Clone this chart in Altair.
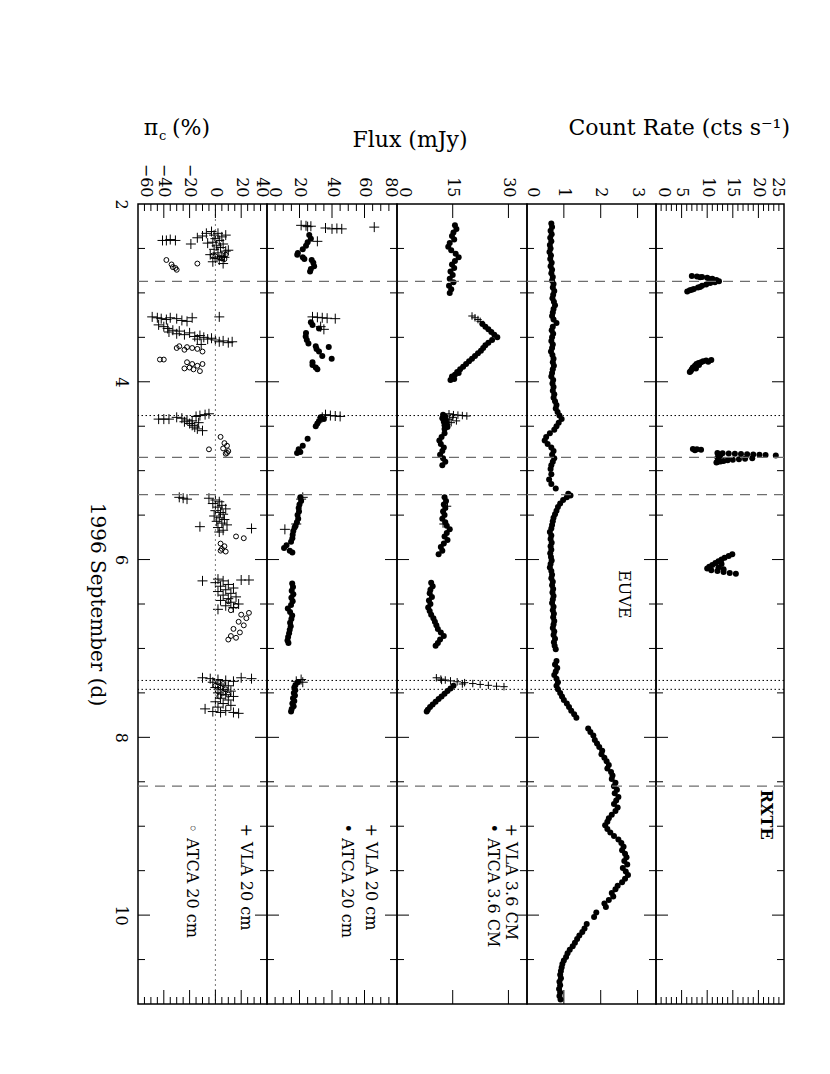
import altair as alt
import pandas as pd

FONT = "DejaVu Serif"
H = 800
CROSS = "M -1 0 L 1 0 M 0 -1 L 0 1"

# ---------------- time axis ----------------
TIME_DOMAIN = [2, 11]
TIME_LABELS = [2, 4, 6, 8, 10]
TIME_MAJOR = [4, 6, 8, 10]
TIME_MINOR = [2.5, 3, 3.5, 4.5, 5, 5.5, 6.5, 7, 7.5, 8.5, 9, 9.5, 10.5]
DASHED_DAYS = [2.87, 4.85, 5.27, 8.55]
DOTTED_DAYS = [4.38, 7.36, 7.46]

# ---------------- RXTE count rate (day, cts/s) ----------------
RXTE = [
    (2.81, 7.0), (2.815, 8.0), (2.82, 9.0), (2.825, 8.6), (2.83, 10.0), (2.84, 11.0), (2.845, 10.4),
    (2.855, 11.8), (2.87, 12.3), (2.88, 11.5), (2.89, 10.6), (2.905, 9.8), (2.92, 9.0), (2.935, 8.6),
    (2.94, 8.2), (2.955, 7.4), (2.965, 7.0), (2.97, 6.6), (2.985, 6.1),
    (3.755, 10.8), (3.76, 9.8), (3.77, 9.2), (3.775, 10.2), (3.78, 8.8), (3.79, 8.3), (3.80, 7.9),
    (3.81, 8.4), (3.82, 7.6), (3.84, 7.2), (3.85, 7.8), (3.86, 7.0), (3.88, 6.8), (3.89, 6.6),
    (4.755, 7.2), (4.76, 8.0), (4.765, 8.8), (4.77, 7.6),
    (4.800, 12.0), (4.803, 13.0), (4.806, 14.2), (4.809, 15.4), (4.812, 16.6), (4.815, 17.8),
    (4.818, 19.0), (4.821, 20.2), (4.824, 21.4), (4.828, 23.4), (4.835, 12.5), (4.845, 12.2),
    (4.855, 12.0), (4.860, 18.8), (4.866, 17.4), (4.872, 16.2), (4.878, 15.0), (4.884, 14.0),
    (4.890, 13.2), (4.896, 12.6), (4.902, 12.0), (4.908, 11.8),
    (5.94, 14.9), (5.96, 14.2), (5.98, 13.4), (6.00, 12.8), (6.02, 12.2), (6.04, 11.6), (6.05, 12.8),
    (6.06, 11.0), (6.08, 10.4), (6.09, 12.2), (6.10, 10.0), (6.11, 13.2), (6.12, 10.8), (6.13, 12.0),
    (6.14, 13.2), (6.15, 14.4), (6.16, 15.6),
]

# ---------------- EUVE count rate (day, cts/s) ----------------
EUVE = [
    (2.22, 0.66), (2.26, 0.68), (2.30, 0.64), (2.34, 0.67), (2.38, 0.63), (2.42, 0.66), (2.46, 0.62),
    (2.50, 0.64), (2.54, 0.61), (2.58, 0.65), (2.62, 0.63), (2.66, 0.67), (2.70, 0.64), (2.74, 0.68),
    (2.78, 0.66), (2.82, 0.70), (2.86, 0.68), (2.90, 0.72), (2.94, 0.70), (2.98, 0.74), (3.02, 0.71),
    (3.06, 0.69), (3.10, 0.73), (3.14, 0.76), (3.18, 0.72), (3.22, 0.70), (3.26, 0.68), (3.30, 0.72),
    (3.34, 0.80), (3.38, 0.70), (3.42, 0.67), (3.46, 0.71), (3.50, 0.68), (3.54, 0.66), (3.58, 0.70),
    (3.62, 0.68), (3.66, 0.65), (3.70, 0.69), (3.74, 0.72), (3.78, 0.70), (3.82, 0.73), (3.86, 0.70),
    (3.90, 0.68), (3.94, 0.66), (3.98, 0.71), (4.02, 0.69), (4.06, 0.72), (4.10, 0.70), (4.14, 0.74),
    (4.18, 0.72), (4.22, 0.76), (4.26, 0.80), (4.30, 0.78), (4.34, 0.83), (4.38, 0.88), (4.42, 0.94),
    (4.46, 0.86), (4.50, 0.80), (4.54, 0.74), (4.58, 0.62), (4.62, 0.52), (4.66, 0.48), (4.70, 0.56),
    (4.74, 0.66), (4.78, 0.72), (4.82, 0.68), (4.86, 0.74), (4.90, 0.70), (4.94, 0.66), (4.98, 0.64),
    (5.04, 0.66), (5.10, 0.60), (5.15, 0.66), (5.20, 0.78), (5.26, 1.12), (5.28, 1.18), (5.30, 1.08),
    (5.33, 0.98), (5.37, 0.90), (5.41, 0.84), (5.45, 0.80), (5.49, 0.76), (5.53, 0.72), (5.57, 0.70),
    (5.61, 0.68), (5.65, 0.66), (5.69, 0.62), (5.73, 0.66), (5.77, 0.64), (5.81, 0.67), (5.85, 0.64),
    (5.89, 0.66), (5.93, 0.63), (5.97, 0.65), (6.01, 0.67), (6.05, 0.64), (6.09, 0.62), (6.13, 0.66),
    (6.17, 0.68), (6.21, 0.66), (6.25, 0.70), (6.29, 0.68), (6.33, 0.71), (6.37, 0.69), (6.41, 0.72),
    (6.45, 0.70), (6.49, 0.68), (6.53, 0.72), (6.57, 0.70), (6.61, 0.73), (6.65, 0.71), (6.69, 0.74),
    (6.73, 0.72), (6.77, 0.70), (6.81, 0.74), (6.85, 0.72), (6.89, 0.76), (6.93, 0.73), (6.97, 0.75),
    (7.01, 0.78), (7.14, 0.80), (7.18, 0.76), (7.22, 0.82), (7.26, 0.78), (7.30, 0.74), (7.34, 0.80),
    (7.38, 0.84), (7.42, 0.80), (7.46, 0.84), (7.50, 0.90), (7.54, 0.95), (7.58, 1.00), (7.62, 1.08),
    (7.66, 1.14), (7.70, 1.20), (7.74, 1.28), (7.78, 1.34), (7.90, 1.66), (7.94, 1.72), (7.98, 1.80),
    (8.03, 1.84), (8.07, 1.90), (8.11, 1.96), (8.15, 2.04), (8.19, 2.02), (8.23, 2.10), (8.27, 2.16),
    (8.31, 2.22), (8.35, 2.18), (8.39, 2.28), (8.43, 2.32), (8.47, 2.30), (8.51, 2.40), (8.55, 2.36),
    (8.59, 2.44), (8.63, 2.38), (8.67, 2.48), (8.71, 2.42), (8.75, 2.36), (8.79, 2.46), (8.83, 2.40),
    (8.87, 2.30), (8.91, 2.22), (8.95, 2.18), (8.99, 2.12), (9.03, 2.18), (9.07, 2.26), (9.11, 2.36),
    (9.15, 2.48), (9.19, 2.56), (9.23, 2.62), (9.27, 2.58), (9.31, 2.66), (9.35, 2.70), (9.39, 2.64),
    (9.43, 2.72), (9.47, 2.60), (9.51, 2.68), (9.55, 2.74), (9.59, 2.66), (9.63, 2.58), (9.67, 2.46),
    (9.71, 2.40), (9.75, 2.30), (9.79, 2.34), (9.83, 2.22), (9.87, 2.10), (9.91, 2.14), (9.97, 1.88),
    (10.02, 1.82), (10.10, 1.62), (10.15, 1.56), (10.19, 1.50), (10.23, 1.42), (10.27, 1.36),
    (10.31, 1.30), (10.35, 1.24), (10.39, 1.16), (10.43, 1.10), (10.47, 1.06), (10.51, 1.00),
    (10.55, 0.96), (10.59, 0.94), (10.63, 0.92), (10.67, 0.90), (10.71, 0.92), (10.75, 0.88),
    (10.79, 0.90), (10.83, 0.87), (10.87, 0.90), (10.91, 0.88), (10.95, 0.91),
]

# ---------------- 3.6 cm flux (day, mJy) ----------------
VLA_36 = [
    (3.26, 20.2), (3.28, 21.0), (3.30, 21.8), (3.32, 22.4),
    (4.36, 14.0), (4.37, 15.2), (4.375, 16.4), (4.38, 17.6), (4.385, 18.8), (4.40, 15.0), (4.42, 14.2),
    (4.44, 16.0), (4.46, 14.6), (4.48, 13.4),
    (5.40, 13.6), (5.60, 12.4),
    (7.33, 10.6), (7.345, 11.8), (7.355, 13.0), (7.36, 12.0), (7.365, 14.4), (7.375, 16.2), (7.385, 18.2),
    (7.395, 20.4), (7.40, 17.6), (7.405, 22.4), (7.415, 24.6), (7.425, 26.8), (7.43, 28.8),
]
ATCA_36 = [
    (2.24, 15.6), (2.28, 16.0), (2.32, 15.2), (2.36, 14.8), (2.40, 15.4), (2.44, 14.2), (2.48, 13.8),
    (2.52, 14.6), (2.56, 15.8), (2.60, 16.6), (2.64, 15.6), (2.68, 14.8), (2.72, 15.4), (2.76, 14.4),
    (2.80, 15.0), (2.84, 14.2), (2.88, 15.2), (2.92, 14.0), (2.96, 14.6), (3.00, 14.2),
    (3.35, 23.0), (3.38, 23.8), (3.41, 24.6), (3.44, 25.4), (3.47, 26.2), (3.50, 27.0), (3.53, 25.6),
    (3.56, 24.6), (3.59, 23.8), (3.62, 23.2), (3.65, 22.6), (3.68, 21.8), (3.71, 21.0), (3.74, 20.2),
    (3.77, 19.4), (3.80, 18.6), (3.83, 17.8), (3.86, 17.0), (3.89, 16.2), (3.90, 16.6), (3.92, 15.6),
    (3.94, 14.8), (3.95, 15.0), (3.97, 15.4), (3.98, 14.4),
    (4.37, 12.4), (4.39, 13.0), (4.41, 12.2), (4.43, 13.2), (4.45, 12.6), (4.47, 13.4), (4.49, 12.8),
    (4.51, 13.6), (4.53, 12.8),
    (4.58, 12.8), (4.62, 12.0), (4.66, 11.4), (4.70, 11.8), (4.74, 12.6), (4.78, 12.2), (4.82, 11.6),
    (4.86, 12.4), (4.90, 13.0), (4.94, 12.2),
    (5.30, 12.8), (5.34, 13.2), (5.38, 12.6), (5.42, 13.0), (5.46, 12.4), (5.50, 12.8), (5.54, 12.2),
    (5.58, 13.0), (5.62, 13.4), (5.66, 14.2), (5.70, 13.4), (5.74, 12.8), (5.78, 13.6), (5.82, 12.6),
    (5.86, 11.8), (5.90, 12.2), (5.94, 11.2),
    (6.26, 9.2), (6.30, 9.6), (6.34, 9.0), (6.38, 8.8), (6.42, 9.4), (6.46, 8.6), (6.50, 9.0),
    (6.54, 8.4), (6.58, 8.8), (6.62, 9.2), (6.66, 9.8), (6.70, 10.2), (6.74, 10.6), (6.78, 11.0),
    (6.82, 11.8), (6.86, 12.6), (6.90, 11.6), (6.94, 11.0), (6.97, 10.4),
    (7.42, 15.2), (7.45, 14.4), (7.48, 13.6), (7.51, 12.8), (7.54, 12.0), (7.57, 11.2), (7.60, 10.4),
    (7.63, 9.6), (7.66, 8.9), (7.69, 8.3), (7.71, 8.0),
]

# ---------------- 20 cm flux (day, mJy) ----------------
VLA_20 = [
    (2.24, 21), (2.245, 24), (2.25, 27), (2.255, 25), (2.27, 36), (2.28, 40), (2.275, 43), (2.28, 46),
    (2.26, 66), (2.42, 31),
    (3.27, 28), (3.275, 31), (3.28, 34), (3.285, 37), (3.29, 42), (3.38, 33), (3.41, 35),
    (4.37, 36), (4.38, 39), (4.385, 42), (4.39, 45), (4.40, 34),
    (5.30, 22), (5.32, 21), (5.66, 11), (5.60, 18),
    (7.35, 21), (7.37, 18), (7.38, 22),
]
ATCA_20 = [
    (2.35, 26), (2.39, 27), (2.43, 25), (2.47, 24), (2.51, 22), (2.55, 19), (2.57, 18.6), (2.60, 22),
    (2.62, 23), (2.63, 27.5), (2.66, 28.5), (2.70, 29), (2.73, 27), (2.76, 26.5),
    (3.33, 27), (3.36, 28), (3.40, 32), (3.45, 24), (3.49, 23.8), (3.53, 24.5), (3.57, 25.5),
    (3.60, 30), (3.63, 30.5), (3.61, 38), (3.66, 32), (3.71, 34), (3.74, 39.8), (3.78, 28),
    (3.81, 28), (3.84, 30), (3.86, 31),
    (4.40, 33), (4.42, 35), (4.44, 32), (4.47, 31), (4.50, 30),
    (4.64, 25), (4.72, 22), (4.76, 19.5), (4.79, 20.5), (4.80, 18.5),
    (5.30, 20.5), (5.34, 21), (5.38, 20), (5.42, 19.5), (5.46, 19.7), (5.50, 18.8), (5.54, 19.2),
    (5.58, 18.4), (5.62, 17.6), (5.64, 17.0), (5.68, 16.2), (5.72, 15.8), (5.76, 15.6), (5.80, 14.8),
    (5.84, 12.0), (5.87, 10.5), (5.90, 14.0), (5.92, 15.6),
    (6.27, 15.5), (6.31, 16.0), (6.35, 15.2), (6.39, 16.2), (6.43, 15.0), (6.47, 15.8), (6.51, 14.8),
    (6.55, 12.8), (6.59, 14.2), (6.63, 15.5), (6.67, 15.0), (6.71, 14.2), (6.75, 14.6), (6.79, 14.0),
    (6.83, 13.6), (6.87, 13.0), (6.91, 12.6), (6.94, 13.2),
    (7.38, 19), (7.41, 17.5), (7.44, 16.8), (7.47, 17.4), (7.50, 16.5), (7.53, 17.2), (7.56, 16.0),
    (7.59, 16.8), (7.62, 15.6), (7.65, 16.4), (7.68, 15.2), (7.71, 14.8),
]

# ---------------- circular polarisation 20 cm (day, %) ----------------
VLA_PC = [
    (2.41, -41), (2.41, -38), (2.40, -35), (2.41, -31), (2.45, -19), (2.38, -14), (2.36, -10),
    (2.33, -7), (2.31, -3), (2.33, 2), (2.35, -1), (2.37, 5), (2.39, 0), (2.41, 3), (2.43, -2),
    (2.45, 6), (2.47, 1), (2.49, 4), (2.51, -1), (2.53, 8), (2.55, 2), (2.57, -4), (2.59, 5),
    (2.61, 0), (2.63, 3), (2.65, -2), (2.67, 6), (2.35, 8), (2.44, -6), (2.52, 10), (2.60, 7),
    (3.27, -49), (3.28, -45), (3.29, -42), (3.30, -38), (3.28, -35), (3.29, -30), (3.31, -26),
    (3.32, -22), (3.28, -18), (3.27, 3), (3.36, -44), (3.38, -40), (3.40, -37), (3.42, -33),
    (3.44, -36), (3.46, -30), (3.43, -28), (3.47, -24), (3.45, -20), (3.49, -16), (3.48, -12),
    (3.50, -9), (3.52, -6), (3.51, -3), (3.53, 0), (3.55, 3), (3.54, 6), (3.56, 10), (3.55, 13),
    (3.52, -14), (3.58, -11),
    (4.42, -44), (4.42, -40), (4.42, -36), (4.40, -30), (4.41, -26), (4.43, -22), (4.45, -24),
    (4.47, -20), (4.49, -18), (4.51, -16), (4.53, -14), (4.44, -18), (4.46, -13), (4.38, -12),
    (4.37, -8), (4.36, -5), (4.39, -15), (4.55, -10),
    (5.30, -28), (5.31, -25), (5.32, -22), (5.31, -5), (5.33, 0), (5.35, 3), (5.37, -2), (5.39, 5),
    (5.41, 2), (5.43, 8), (5.45, 0), (5.47, 4), (5.49, 6), (5.51, -1), (5.53, 3), (5.55, 7),
    (5.57, 1), (5.59, 5), (5.61, 9), (5.63, -12), (5.65, 28), (5.64, 2), (5.67, 6), (5.69, 3),
    (6.24, -10), (6.22, 2), (6.24, 6), (6.26, 0), (6.28, 10), (6.30, 4), (6.32, 14), (6.34, 8),
    (6.36, 2), (6.38, 12), (6.40, 6), (6.42, 16), (6.44, 10), (6.46, 4), (6.48, 12), (6.50, 18),
    (6.52, 8), (6.54, 14), (6.56, 2), (6.23, 20), (6.23, 26),
    (7.33, -10), (7.34, -4), (7.35, 2), (7.36, 8), (7.37, 14), (7.33, 20), (7.34, 28), (7.38, -2),
    (7.40, 4), (7.42, 10), (7.44, 0), (7.46, 6), (7.48, 12), (7.50, 2), (7.52, 8), (7.54, 14),
    (7.56, 4), (7.58, 10), (7.60, 0), (7.62, 6), (7.64, 12), (7.66, 2), (7.68, -8), (7.70, 8),
    (7.72, 14), (7.73, 18), (7.71, -2), (7.72, 4),
]
ATCA_PC = [
    (2.63, -38), (2.68, -34), (2.71, -33), (2.74, -30), (2.72, -31), (2.67, -14), (2.58, -2),
    (2.60, 3), (2.62, 7), (2.59, 0), (2.61, 5), (2.57, 8),
    (3.60, -28), (3.61, -22), (3.62, -18), (3.63, -14), (3.64, -24), (3.66, -10), (3.62, -30),
    (3.75, -43), (3.75, -40), (3.78, -22), (3.80, -18), (3.82, -14), (3.84, -20), (3.86, -17),
    (3.88, -12), (3.80, -10), (3.85, -24),
    (4.62, 4), (4.69, 7), (4.72, 9), (4.75, 6), (4.78, 10), (4.81, 8), (4.76, -5), (4.80, 9),
    (5.74, 16), (5.76, 22), (5.82, 4), (5.85, 7), (5.88, 5), (5.91, 8), (5.90, 4),
    (6.47, 10), (6.52, 16), (6.57, 12), (6.62, 20), (6.66, 24), (6.70, 18), (6.74, 22), (6.78, 14),
    (6.82, 19), (6.86, 12), (6.88, 16), (6.90, 10), (6.60, 26),
    (7.38, 2), (7.40, 6), (7.42, 0), (7.44, 4), (7.46, 8), (7.48, 2), (7.50, 6), (7.52, 10), (7.54, 3),
]

# ---------------- value-axis ticks ----------------
PC_LABELS = [-60, -40, -20, 0, 20, 40]
PC_MAJOR = [-40, -20, 0, 20]
PC_MINOR = [-55, -50, -45, -35, -30, -25, -15, -10, -5, 5, 10, 15, 25, 30, 35]
F20_LABELS = [0, 20, 40, 60, 80]
F20_MAJOR = [20, 40, 60]
F20_MINOR = [5, 10, 15, 25, 30, 35, 45, 50, 55, 65, 70, 75]
F36_LABELS = [0, 15, 30]
F36_MAJOR = [15, 30]
EUVE_LABELS = [0, 1, 2, 3]
EUVE_MAJOR = [1, 2, 3]
RXTE_LABELS = [0, 5, 10, 15, 20, 25]
RXTE_MAJOR = [5, 10, 15, 20]
RXTE_MINOR = [1, 2, 3, 4, 6, 7, 8, 9, 11, 12, 13, 14, 16, 17, 18, 19, 21, 22, 23, 24]

FILLED = dict(shape="circle", filled=True, size=36, color="black", opacity=1, strokeWidth=0)
OPEN = dict(shape="circle", filled=False, size=24, color="black", opacity=1, strokeWidth=1)
PLUS_BIG = dict(shape=CROSS, filled=False, size=100, color="black", opacity=1, strokeWidth=1)
PLUS_SMALL = dict(shape=CROSS, filled=False, size=56, color="black", opacity=1, strokeWidth=1)

LABEL_SIZE = 16
NOTE_SIZE = 16
TITLE_SIZE = 22


def panel(width, domain, labels, major, minor, shifts, series, notes, first=False,
          zero_line=False, titles=()):
    xs = alt.Scale(domain=domain, nice=False, zero=False)
    ys = alt.Scale(domain=TIME_DOMAIN, reverse=True, nice=False, zero=False)
    conds = [{"test": f"datum.value === {k}", "value": v} for k, v in shifts.items()]
    top_axis = alt.Axis(
        orient="top", values=labels, labelAngle=90, labelAlign="right", labelBaseline="middle",
        labelPadding=7, ticks=False, domain=False, grid=False, title=None, labelFont=FONT,
        labelFontSize=LABEL_SIZE, labelColor="black", labelOverlap=False,
        labelOffset={"condition": conds, "value": 0},
    )
    if first:
        left_axis = alt.Axis(
            orient="left", values=TIME_LABELS, labelAngle=90, labelAlign="center",
            labelBaseline="top", labelPadding=10, ticks=False, domain=False, grid=False,
            title="1996 September (d)", titleAngle=90, titleBaseline="top", titleFont=FONT,
            titleFontSize=20, titleFontWeight="normal", titleColor="black", titlePadding=6,
            labelFont=FONT, labelFontSize=LABEL_SIZE, labelColor="black",
        )
    else:
        left_axis = None

    def X(field="v"):
        return alt.X(f"{field}:Q", scale=xs, axis=top_axis)

    def Y(field="d"):
        return alt.Y(f"{field}:Q", scale=ys, axis=left_axis)

    layers = []
    for pts, style in series:
        df = pd.DataFrame(pts, columns=["d", "v"])
        layers.append(alt.Chart(df).mark_point(**style).encode(x=X(), y=Y()))

    if zero_line:
        layers.append(
            alt.Chart(pd.DataFrame({"v": [0]})).mark_rule(
                color="#777777", strokeWidth=1, strokeDash=[2, 3]
            ).encode(x=X())
        )
    layers.append(
        alt.Chart(pd.DataFrame({"d": DASHED_DAYS})).mark_rule(
            color="#6e6e6e", strokeWidth=1.2, strokeDash=[10, 7]
        ).encode(y=Y())
    )
    layers.append(
        alt.Chart(pd.DataFrame({"d": DOTTED_DAYS})).mark_rule(
            color="black", strokeWidth=1, strokeDash=[1.5, 2.5]
        ).encode(y=Y())
    )

    # inward time ticks on both sides
    for days, ln in ((TIME_MAJOR, 12), (TIME_MINOR, 7)):
        df = pd.DataFrame({"d": days})
        layers.append(alt.Chart(df).mark_rule(color="black", strokeWidth=1).encode(
            y=Y(), x=alt.value(0), x2=alt.value(ln)))
        layers.append(alt.Chart(df).mark_rule(color="black", strokeWidth=1).encode(
            y=Y(), x=alt.value(width), x2=alt.value(width - ln)))

    # inward value ticks top and bottom
    for vals, ln in ((major, 14), (minor, 7)):
        if not vals:
            continue
        df = pd.DataFrame({"v": vals})
        layers.append(alt.Chart(df).mark_rule(color="black", strokeWidth=1).encode(
            x=X(), y=alt.value(0), y2=alt.value(ln)))
        layers.append(alt.Chart(df).mark_rule(color="black", strokeWidth=1).encode(
            x=X(), y=alt.value(H), y2=alt.value(H - ln)))

    # in-panel rotated annotations
    for (v, d, txt, align, weight) in notes:
        df = pd.DataFrame({"v": [v], "d": [d], "t": [txt]})
        layers.append(alt.Chart(df).mark_text(
            angle=90, align=align, baseline="middle", font=FONT, fontSize=NOTE_SIZE,
            fontWeight=weight, color="black"
        ).encode(x=X(), y=Y(), text="t:N"))

    # horizontal titles above the panel
    for (txt, px, py, align, size) in titles:
        df = pd.DataFrame({"t": [txt]})
        layers.append(alt.Chart(df).mark_text(
            align=align, baseline="middle", font=FONT, fontSize=size, color="black"
        ).encode(x=alt.value(px), y=alt.value(py), text="t:N"))

    return alt.layer(*layers).properties(width=width, height=H)


p_pc = panel(
    129, [-60, 40], PC_LABELS, PC_MAJOR, PC_MINOR, {-60: 7, 40: -6},
    [(VLA_PC, PLUS_BIG), (ATCA_PC, OPEN)],
    [(23.7, 8.97, "+ VLA 20 cm", "left", "normal"),
     (-18.1, 8.97, "\u25e6 ATCA 20 cm", "left", "normal")],
    first=True, zero_line=True,
    titles=[("\u03c0", 13, -76, "center", TITLE_SIZE), ("c", 21, -68, "left", 13),
            ("(%)", 34, -76, "left", TITLE_SIZE)],
)
p_20 = panel(
    130, [0, 80], F20_LABELS, F20_MAJOR, F20_MINOR, {0: 7, 80: -7},
    [(ATCA_20, FILLED), (VLA_20, PLUS_BIG)],
    [(64.0, 8.97, "+ VLA 20 cm", "left", "normal"),
     (49.2, 8.97, "\u2022 ATCA 20 cm", "left", "normal")],
    titles=[("Flux (mJy)", 143, -64, "center", TITLE_SIZE)],
)
p_36 = panel(
    130, [0, 35], F36_LABELS, F36_MAJOR, [], {0: 7},
    [(ATCA_36, FILLED), (VLA_36, PLUS_SMALL)],
    [(30.7, 8.97, "+ VLA 3.6 CM", "left", "normal"),
     (25.9, 8.97, "\u2022 ATCA 3.6 CM", "left", "normal")],
)
p_euve = panel(
    129, [0, 3.5], EUVE_LABELS, EUVE_MAJOR, [], {0: 5},
    [(EUVE, FILLED)],
    [(2.62, 6.39, "EUVE", "center", "normal")],
)
p_rxte = panel(
    128, [0, 25], RXTE_LABELS, RXTE_MAJOR, RXTE_MINOR, {0: 7, 25: -7},
    [(RXTE, FILLED)],
    [(21.5, 8.87, "RXTE", "center", "bold")],
    titles=[("Count Rate (cts s\u207b\u00b9)", 134, -76, "right", TITLE_SIZE)],
)

chart = alt.hconcat(p_pc, p_20, p_36, p_euve, p_rxte, spacing=0, bounds="flush").properties(
    padding={"left": 77, "top": 108, "right": 5, "bottom": 5},
    background="white",
).configure_view(stroke="black", strokeWidth=1.5)

chart.save("out.html", embed_options={"renderer": "svg", "actions": False})
